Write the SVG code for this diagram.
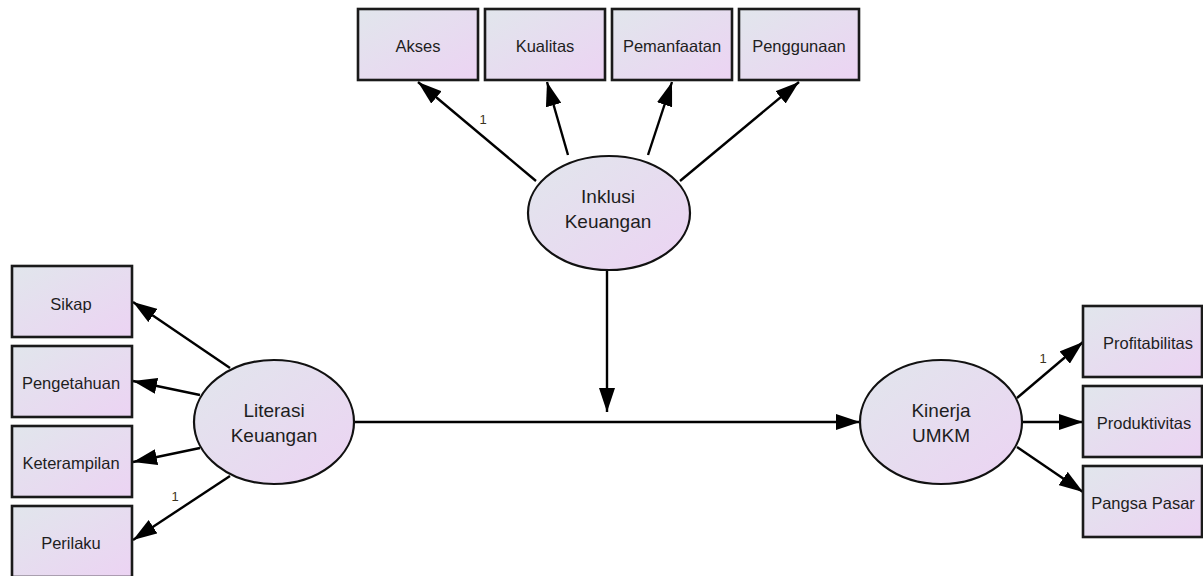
<svg xmlns="http://www.w3.org/2000/svg" width="1203" height="576" viewBox="0 0 1203 576">
<defs>
<linearGradient id="g" x1="0" y1="0" x2="1" y2="1">
<stop offset="0" stop-color="#e1e6ec"/>
<stop offset="1" stop-color="#ecd3f3"/>
</linearGradient>
<marker id="ah" viewBox="0 0 24 16" refX="24" refY="8" markerWidth="24" markerHeight="16" markerUnits="userSpaceOnUse" orient="auto">
<path d="M0,0 L24,8 L0,16 z" fill="#000"/>
</marker>
<style>
.box{fill:url(#g);stroke:#1a1a1a;stroke-width:2.6}
.ell{fill:url(#g);stroke:#111;stroke-width:2.2}
.t{font-family:"Liberation Sans",Arial,sans-serif;font-size:16.5px;fill:#1e1e1e;text-anchor:middle}
.te{font-family:"Liberation Sans",Arial,sans-serif;font-size:19px;fill:#1e1e1e;text-anchor:middle}
.lab{font-family:"Liberation Sans",Arial,sans-serif;font-size:13px;fill:#3a3320;text-anchor:middle}
.c{stroke:#000;stroke-width:2.4;fill:none;marker-end:url(#ah)}
</style>
</defs>
<rect width="1203" height="576" fill="#fff"/>
<g id="connectors">
<line class="c" x1="536" y1="181" x2="418" y2="82"/>
<line class="c" x1="568" y1="155" x2="547" y2="82"/>
<line class="c" x1="648" y1="155" x2="672" y2="82"/>
<line class="c" x1="680" y1="181" x2="799" y2="82"/>
<line class="c" x1="230" y1="368" x2="133" y2="302"/>
<line class="c" x1="200" y1="395" x2="133" y2="381"/>
<line class="c" x1="200" y1="448" x2="133" y2="462"/>
<line class="c" x1="230" y1="476" x2="133" y2="540"/>
<line class="c" x1="1017" y1="398" x2="1083" y2="342"/>
<line class="c" x1="1023" y1="422" x2="1083" y2="422"/>
<line class="c" x1="1017" y1="447" x2="1083" y2="492"/>
<line class="c" x1="355" y1="422" x2="860" y2="422"/>
<line class="c" x1="607" y1="270" x2="607" y2="412"/>
<text class="lab" x="483" y="124">1</text>
<text class="lab" x="175" y="501">1</text>
<text class="lab" x="1043" y="363">1</text>
</g>
<g id="akses"><rect class="box" x="358" y="9" width="120" height="71"/><text class="t" x="418" y="52">Akses</text></g>
<g id="kualitas"><rect class="box" x="485" y="9" width="120" height="71"/><text class="t" x="545" y="52">Kualitas</text></g>
<g id="pemanfaatan"><rect class="box" x="612" y="9" width="120" height="71"/><text class="t" x="672" y="52">Pemanfaatan</text></g>
<g id="penggunaan"><rect class="box" x="739" y="9" width="120" height="71"/><text class="t" x="799" y="52">Penggunaan</text></g>
<g id="inklusi"><ellipse class="ell" cx="609" cy="213" rx="81" ry="57"/><text class="te" x="608" y="203">Inklusi</text><text class="te" x="608" y="228">Keuangan</text></g>
<g id="sikap"><rect class="box" x="12" y="266" width="120" height="71"/><text class="t" x="71" y="310">Sikap</text></g>
<g id="pengetahuan"><rect class="box" x="12" y="346" width="120" height="71"/><text class="t" x="71" y="389">Pengetahuan</text></g>
<g id="keterampilan"><rect class="box" x="12" y="426" width="120" height="71"/><text class="t" x="71" y="469">Keterampilan</text></g>
<g id="perilaku"><rect class="box" x="12" y="506" width="120" height="71"/><text class="t" x="71" y="549">Perilaku</text></g>
<g id="literasi"><ellipse class="ell" cx="274" cy="422" rx="80" ry="62"/><text class="te" x="274" y="417">Literasi</text><text class="te" x="274" y="442">Keuangan</text></g>
<g id="kinerja"><ellipse class="ell" cx="941" cy="422" rx="81" ry="62"/><text class="te" x="941" y="417">Kinerja</text><text class="te" x="941" y="442">UMKM</text></g>
<g id="profitabilitas"><rect class="box" x="1083" y="306" width="119" height="71"/><text class="t" x="1148" y="349">Profitabilitas</text></g>
<g id="produktivitas"><rect class="box" x="1083" y="386" width="119" height="71"/><text class="t" x="1144" y="429">Produktivitas</text></g>
<g id="pangsa"><rect class="box" x="1083" y="466" width="119" height="71"/><text class="t" x="1143" y="509">Pangsa Pasar</text></g>
</svg>
